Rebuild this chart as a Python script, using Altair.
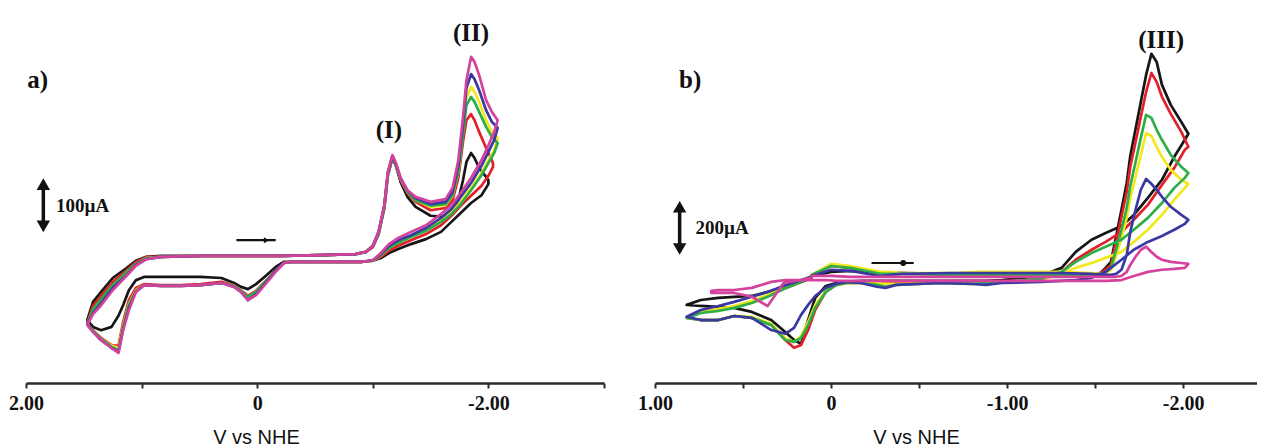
import altair as alt
import pandas as pd

SCANS = ["black", "red", "yellow", "green", "blue", "magenta"]
SCAN_COLORS = ["#161616", "#e3202a", "#f2e81c", "#2fae48", "#3b37a3", "#d3429d"]

# ---------------- panel a (potential in V vs NHE, current in µA) ----------------
A_FWD_E = [0.14, -0.21, -0.55, -0.85, -0.94, -1.00, -1.05, -1.10, -1.13, -1.17, -1.20, -1.24, -1.30,
           -1.37, -1.50, -1.63, -1.69, -1.74, -1.78, -1.81, -1.85, -1.88, -1.92, -1.98, -2.03, -2.08]
A_RET_E = [-2.05, -2.00, -1.94, -1.85, -1.76, -1.68, -1.59, -1.46, -1.33, -1.22, -1.14, -1.07, -1.00,
           -0.90, -0.55, -0.29, -0.23, -0.16, -0.08, 0.01, 0.08, 0.14, 0.20, 0.31, 0.49, 0.66, 0.83,
           0.98, 1.05, 1.11, 1.16, 1.20, 1.26, 1.35, 1.42, 1.47]
A_BACK_E = [1.42, 1.35, 1.25, 1.13, 1.05, 0.96, 0.83, 0.49, 0.14]

A_FWD_I = {
    "black":   [4, 4, 5, 7, 11, 20, 43, 90, 148, 180, 166, 137, 110, 92, 76, 74, 83, 104, 140, 173, 189, 180, 162, 146, 140, 137],
    "red":     [4, 4, 5, 7, 11, 20, 45, 94, 151, 182, 167, 140, 117, 101, 86, 90, 104, 144, 209, 248, 259, 248, 227, 198, 176, 171],
    "yellow":  [4, 4, 5, 7, 11, 22, 45, 94, 151, 184, 167, 142, 119, 104, 92, 95, 112, 155, 227, 288, 308, 299, 281, 248, 227, 216],
    "green":   [4, 4, 5, 7, 11, 22, 45, 94, 151, 184, 167, 142, 119, 104, 94, 97, 113, 155, 221, 275, 290, 281, 263, 236, 218, 207],
    "blue":    [4, 4, 5, 7, 11, 22, 47, 94, 153, 184, 169, 144, 121, 108, 97, 101, 119, 166, 239, 306, 331, 322, 302, 266, 245, 234],
    "magenta": [4, 4, 5, 7, 11, 22, 47, 95, 155, 185, 171, 144, 122, 110, 101, 106, 126, 176, 252, 320, 362, 353, 329, 284, 263, 248],
}
A_RET_I = {
    "black":   [137, 133, 113, 99, 81, 65, 47, 34, 25, 16, 9, 0, -5, -7, -7, -7, -7, -16, -31, -47, -56, -52, -45, -36,
                -34, -34, -34, -34, -40, -58, -85, -104, -124, -130, -124, -112],
    "red":     [164, 148, 130, 112, 94, 76, 59, 43, 32, 22, 13, 2, -5, -7, -7, -7, -9, -22, -40, -59, -68, -58, -49, -43,
                -47, -49, -49, -47, -54, -76, -115, -158, -157, -144, -130, -117],
    "yellow":  [194, 176, 153, 126, 101, 83, 67, 50, 38, 29, 18, 5, -5, -7, -7, -7, -9, -23, -41, -61, -72, -59, -50, -45,
                -49, -50, -50, -49, -58, -83, -121, -162, -158, -146, -131, -119],
    "green":   [189, 171, 149, 122, 97, 79, 65, 49, 38, 27, 18, 5, -5, -7, -7, -7, -9, -23, -41, -61, -70, -59, -50, -45,
                -49, -50, -50, -49, -59, -85, -124, -166, -160, -146, -131, -119],
    "blue":    [212, 191, 166, 135, 110, 88, 72, 54, 41, 32, 22, 7, -4, -7, -7, -7, -9, -23, -43, -65, -76, -61, -52, -45,
                -49, -50, -50, -49, -61, -90, -128, -169, -162, -148, -133, -119],
    "magenta": [227, 203, 176, 144, 117, 95, 79, 59, 47, 36, 25, 9, -4, -7, -7, -7, -9, -25, -45, -67, -76, -61, -52, -45,
                -49, -50, -50, -49, -61, -94, -130, -171, -162, -148, -133, -121],
}
A_BACK_I = {
    "black":   [-79, -61, -36, -18, -5, 2, 4, 4, 4],
    "red":     [-86, -68, -43, -22, -7, 2, 2, 4, 4],
    "yellow":  [-95, -77, -52, -27, -13, 0, 2, 4, 4],
    "green":   [-92, -74, -49, -25, -11, 0, 2, 4, 4],
    "blue":    [-99, -81, -54, -31, -13, -2, 2, 4, 4],
    "magenta": [-101, -85, -58, -32, -14, -2, 2, 4, 4],
}
A_SWITCH_NEG = {"black": -2.00, "red": -2.04}

# ---------------- panel b ----------------
B_FWD_E = [0.11, 0.00, -0.11, -0.28, -0.34, -0.40, -0.68, -0.85, -0.97, -1.31, -1.48, -1.53, -1.56, -1.59,
           -1.62, -1.65, -1.68, -1.70, -1.73, -1.76, -1.79, -1.82, -1.85, -1.88, -1.93, -1.99, -2.03]
B_RET_E = [-2.01, -1.95, -1.88, -1.80, -1.72, -1.65, -1.56, -1.48, -1.39, -1.31, -1.19, -0.97, -0.88, -0.80,
           -0.62, -0.37, -0.31, -0.26, -0.17, -0.09, -0.03, 0.03, 0.09, 0.13, 0.17, 0.21, 0.26, 0.34, 0.45,
           0.55, 0.64, 0.74, 0.82]
B_BACK_E = [0.74, 0.64, 0.55, 0.45, 0.36, 0.27, 0.17, 0.11]

B_FWD_I = {
    "black":   [-4, 11, 15, 7, 7, 7, 4, 4, 4, 4, 4, 7, 26, 48, 144, 241, 340, 440, 540, 640, 740, 818, 788, 703, 629, 566, 522],
    "red":     [0, 33, 26, 7, 7, 7, 4, 4, 4, 4, 4, 7, 19, 37, 122, 215, 307, 400, 492, 585, 677, 747, 714, 659, 596, 529, 474],
    "yellow":  [0, 41, 33, 11, 11, 7, 7, 11, 11, 11, 7, 4, 7, 19, 70, 137, 211, 285, 363, 444, 525, 514, 474, 437, 389, 352, 337],
    "green":   [0, 33, 26, 4, 4, 4, 0, 0, 0, 0, 0, 4, 11, 26, 93, 167, 248, 329, 418, 507, 592, 581, 537, 500, 444, 400, 377],
    "blue":    [-4, 19, 15, -4, 0, 4, 7, 7, 7, 7, 4, 0, 0, 0, 4, 19, 74, 159, 241, 315, 355, 337, 315, 289, 252, 222, 204],
    "magenta": [-4, -4, -7, -7, -7, -7, -7, -7, -7, -7, -7, -7, -7, -7, -7, -4, 11, 37, 67, 93, 104, 85, 67, 56, 48, 44, 41],
}
B_RET_I = {
    "black":   [500, 437, 352, 285, 222, 181, 155, 130, 85, 26, -4, -19, -22, -22, -22, -22, -22, -22, -22, -26, -30,
                -41, -85, -167, -255, -241, -211, -167, -137, -122, -118, -115, -111],
    "red":     [463, 396, 333, 259, 204, 159, 122, 93, 56, 11, -15, -26, -26, -30, -30, -30, -33, -30, -30, -30, -37,
                -63, -130, -204, -259, -270, -241, -185, -159, -152, -167, -167, -159],
    "yellow":  [322, 278, 222, 167, 122, 85, 63, 44, 26, 4, -19, -26, -30, -30, -30, -33, -33, -30, -30, -30, -37,
                -59, -111, -174, -226, -248, -233, -181, -155, -152, -167, -167, -159],
    "green":   [359, 322, 266, 211, 167, 130, 104, 81, 48, 11, -15, -26, -30, -33, -30, -37, -44, -37, -30, -30, -37,
                -63, -122, -185, -233, -248, -241, -185, -159, -152, -167, -167, -159],
    "blue":    [189, 167, 144, 122, 93, 56, 11, -11, -19, -22, -26, -30, -37, -33, -30, -37, -48, -44, -30, -26, -33,
                -48, -78, -111, -148, -196, -218, -204, -159, -152, -167, -167, -155],
    "magenta": [26, 22, 19, 11, -4, -19, -22, -22, -22, -22, -22, -22, -22, -22, -22, -22, -22, -22, -22, -22, -22,
                -19, -19, -19, -19, -19, -19, -26, -48, -56, -56, -59, -59],
}
B_BACK_I = {
    "black":   [-93, -85, -81, -78, -63, -44, -26, -11],
    "red":     [-137, -130, -118, -100, -78, -52, -26, -7],
    "yellow":  [-137, -126, -115, -96, -74, -48, -22, -4],
    "green":   [-141, -133, -122, -104, -81, -52, -26, -4],
    "blue":    [-130, -115, -100, -81, -63, -41, -19, -7],
    "magenta": [-67, -67, -67, -81, -115, -30, -19, -11],
}
B_SWITCH_POS = {"magenta": 0.68}


def build(fwd_e, ret_e, back_e, fwd_i, ret_i, back_i, sw_neg=None, sw_pos=None):
    sw_neg = sw_neg or {}
    sw_pos = sw_pos or {}
    rows = []
    E = fwd_e + ret_e + back_e
    for name in SCANS:
        I = fwd_i[name] + ret_i[name] + back_i[name]
        assert len(I) == len(E), (name, len(I), len(E))
        lo = sw_neg.get(name, -10.0)
        hi = sw_pos.get(name, 10.0)
        for k, (e, i) in enumerate(zip(E, I)):
            rows.append({"E": min(max(e, lo), hi), "I": i, "scan": name, "k": k})
    return pd.DataFrame(rows)


df_a = build(A_FWD_E, A_RET_E, A_BACK_E, A_FWD_I, A_RET_I, A_BACK_I, sw_neg=A_SWITCH_NEG)
df_b = build(B_FWD_E, B_RET_E, B_BACK_E, B_FWD_I, B_RET_I, B_BACK_I, sw_pos=B_SWITCH_POS)

# annotations (data coordinates)
A_LABELS = pd.DataFrame({"E": [1.90, -1.14, -1.85], "I": [320, 230, 405], "t": ["a)", "(I)", "(II)"]})
B_LABELS = pd.DataFrame({"E": [0.80, -1.875], "I": [722, 870], "t": ["b)", "(III)"]})
A_BAR = {"E": 1.85, "lo": 45, "hi": 145, "text": "100µA", "textE": 1.74, "textI": 94}
B_BAR = {"E": 0.86, "lo": 74, "hi": 274, "text": "200µA", "textE": 0.77, "textI": 174}
A_ARROW = {"E1": 0.18, "E2": -0.16, "I": 32, "headE": -0.08}
B_ARROW = {"E1": -0.23, "E2": -0.47, "I": 44, "headE": -0.41}

SERIF = "Liberation Serif"
SANS = "Liberation Sans"


def make_axis(values, label_map, title_x):
    expr = " : ".join([f"datum.value == {v} ? '{t}'" for v, t in label_map]) + " : ''"
    return alt.Axis(values=values, labelExpr=expr, title="V vs NHE", titleFont=SANS, titleFontSize=20,
                    titleFontWeight="normal", titleColor="#111", titleX=title_x, titleY=60,
                    titleAlign="center", titleBaseline="alphabetic", titleAnchor="start",
                    labelFont=SERIF, labelFontWeight="bold", labelFontSize=20, labelColor="#111",
                    labelPadding=5, labelOverlap=False, labelFlush=False,
                    domainColor="#2a2a2a", domainWidth=2.5, tickColor="#2a2a2a", tickWidth=2,
                    tickSize=5, grid=False)


def panel(df, labels, bar, arrow, xdom, ydom, width, axis, bar_head, arrow_shape):
    x = alt.X("E:Q", scale=alt.Scale(domain=xdom, reverse=True, nice=False, zero=False), axis=axis)
    y = alt.Y("I:Q", scale=alt.Scale(domain=ydom, nice=False, zero=False), axis=None)
    lines = alt.Chart(df).mark_line(strokeWidth=2.7, strokeJoin="round", strokeCap="round").encode(
        x=x, y=y,
        color=alt.Color("scan:N", scale=alt.Scale(domain=SCANS, range=SCAN_COLORS), legend=None),
        order=alt.Order("k:Q"),
    )
    txt = alt.Chart(labels).mark_text(font=SERIF, fontWeight="bold", fontSize=25, color="#111").encode(
        x=x, y=y, text="t:N")
    span = bar["hi"] - bar["lo"]
    bar_df = pd.DataFrame({"E": [bar["E"]], "I": [bar["lo"] + bar_head * span], "I2": [bar["hi"] - bar_head * span]})
    bar_rule = alt.Chart(bar_df).mark_rule(strokeWidth=3.5, color="#111").encode(x=x, y=y, y2="I2:Q")
    heads = pd.DataFrame({"E": [bar["E"], bar["E"]],
                          "I": [bar["hi"] - bar_head * span, bar["lo"] + bar_head * span],
                          "s": ["triangle-up", "triangle-down"]})
    head_pts = alt.Chart(heads).mark_point(filled=True, size=180, color="#111", opacity=1).encode(
        x=x, y=y, shape=alt.Shape("s:N", scale=None))
    bar_txt = alt.Chart(pd.DataFrame({"E": [bar["textE"]], "I": [bar["textI"]], "t": [bar["text"]]})).mark_text(
        font=SERIF, fontWeight="bold", fontSize=19, align="left", baseline="middle", color="#111").encode(
        x=x, y=y, text="t:N")
    arr_df = pd.DataFrame({"E": [arrow["E1"]], "E2": [arrow["E2"]], "I": [arrow["I"]]})
    arr_rule = alt.Chart(arr_df).mark_rule(strokeWidth=2.2, color="#111").encode(x=x, x2="E2:Q", y=y)
    arr_head = alt.Chart(pd.DataFrame({"E": [arrow["headE"]], "I": [arrow["I"]]})).mark_point(
        filled=True, size=35, color="#111", opacity=1, shape=arrow_shape).encode(x=x, y=y)
    return alt.layer(lines, bar_rule, head_pts, bar_txt, arr_rule, arr_head, txt).properties(
        width=width, height=370)


axis_a = make_axis([2, 1, 0, -1, -2, -3], [(2, "2.00"), (0, "0"), (-2, "-2.00")], 230)
axis_b = make_axis([1, 0.5, 0, -0.5, -1, -1.5, -2], [(1, "1.00"), (0, "0"), (-1, "-1.00"), (-2, "-2.00")], 261)

panel_a = panel(df_a, A_LABELS, A_BAR, A_ARROW, [-3.0, 2.0], [-225, 441], 578, axis_a, 0.12, "triangle-right")
panel_b = panel(df_b, B_LABELS, B_BAR, B_ARROW, [-2.42, 1.0], [-400, 969], 602, axis_b, 0.11, "circle")

chart = alt.hconcat(panel_a, panel_b, spacing=51, bounds="flush").properties(
    padding={"left": 0, "top": 5, "right": 0, "bottom": 0}
).configure(background="white", view=alt.ViewConfig(stroke=None))

chart.save("out.html", embed_options={"renderer": "svg", "actions": False})
